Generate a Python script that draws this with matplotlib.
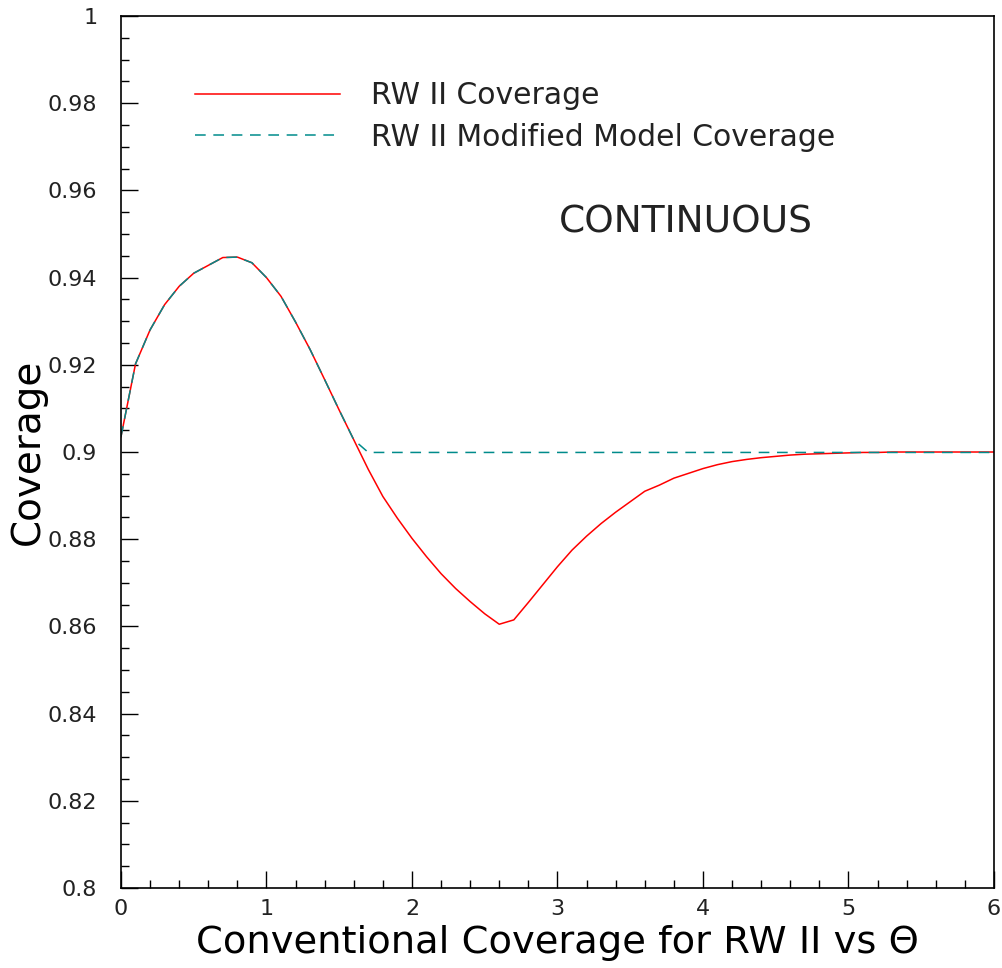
"""Coverage of RW II vs theta (continuous case)."""

import numpy as np
import matplotlib
matplotlib.use('Agg')
from matplotlib import pyplot as plt
from matplotlib.ticker import MultipleLocator

theta = np.round(np.arange(0, 6.01, 0.1), 1)

rw_coverage = [
    0.9035, 0.9202, 0.9280, 0.9338, 0.9380, 0.9410, 0.9428, 0.9446, 0.9447, 0.9434,
    0.9400, 0.9357, 0.9298, 0.9235, 0.9166, 0.9096, 0.9028, 0.8960, 0.8898, 0.8848,
    0.8802, 0.8760, 0.8721, 0.8687, 0.8657, 0.8629, 0.8605, 0.8615, 0.8655, 0.8696,
    0.8737, 0.8775, 0.8807, 0.8836, 0.8862, 0.8886, 0.8910, 0.8924, 0.8940, 0.8951,
    0.8962, 0.8971, 0.8978, 0.8983, 0.8987, 0.8990, 0.8993, 0.8995, 0.8996, 0.8997,
    0.8998, 0.8999, 0.8999, 0.9000, 0.9000, 0.9000, 0.9000, 0.9000, 0.9000, 0.9000,
    0.9000,
]

# modified model follows the RW II curve until theta = 1.6, then stays at 0.9
modified_coverage = rw_coverage[:17] + [0.8999] * 44

labels = ['RW II Coverage', 'RW II Modified Model Coverage']

plt.rcParams['font.family'] = ['DejaVu Sans']
plt.rcParams['text.color'] = '#222222'

fig = plt.figure(figsize=(10.03, 9.68), dpi=100)
ax = fig.add_axes([0.1206, 0.0826, 0.8704, 0.9009])

ax.plot(theta, rw_coverage, color='#ff0000', lw=1.1, label=labels[0])
ax.plot(theta, modified_coverage, color='#008b8b', lw=1.1,
        dashes=(7, 5), label=labels[1])

ax.set_xlim(0, 6)
ax.set_ylim(0.8, 1.0)
ax.xaxis.set_major_locator(MultipleLocator(1))
ax.xaxis.set_minor_locator(MultipleLocator(0.2))
ax.yaxis.set_minor_locator(MultipleLocator(0.005))
ax.set_yticks(np.arange(0.8, 1.001, 0.02))
ax.set_yticklabels(['0.8', '0.82', '0.84', '0.86', '0.88', '0.9',
                    '0.92', '0.94', '0.96', '0.98', '1'])
ax.tick_params(which='both', direction='in', top=False, right=False,
               labelcolor='#222222')
ax.tick_params(which='major', length=12, width=1, labelsize=16)
ax.tick_params(axis='y', which='major', pad=17)
ax.tick_params(axis='x', which='major', pad=8)
ax.tick_params(which='minor', length=6, width=1)
for s in ax.spines.values():
    s.set_linewidth(1.2)

ax.set_xlabel('Conventional Coverage for RW II vs \u0398', fontsize=27.7, labelpad=4)
ax.set_ylabel('Coverage', fontsize=28, labelpad=1)

ax.legend(loc='upper left', bbox_to_anchor=(0.085, 0.925), frameon=False,
          fontsize=21.5, handlelength=4.85, handletextpad=1.04, labelspacing=0.42,
          borderpad=0, borderaxespad=0)

ax.text(0.502, 0.752, 'CONTINUOUS', transform=ax.transAxes, fontsize=27)

fig.savefig('out.png', dpi=100)
